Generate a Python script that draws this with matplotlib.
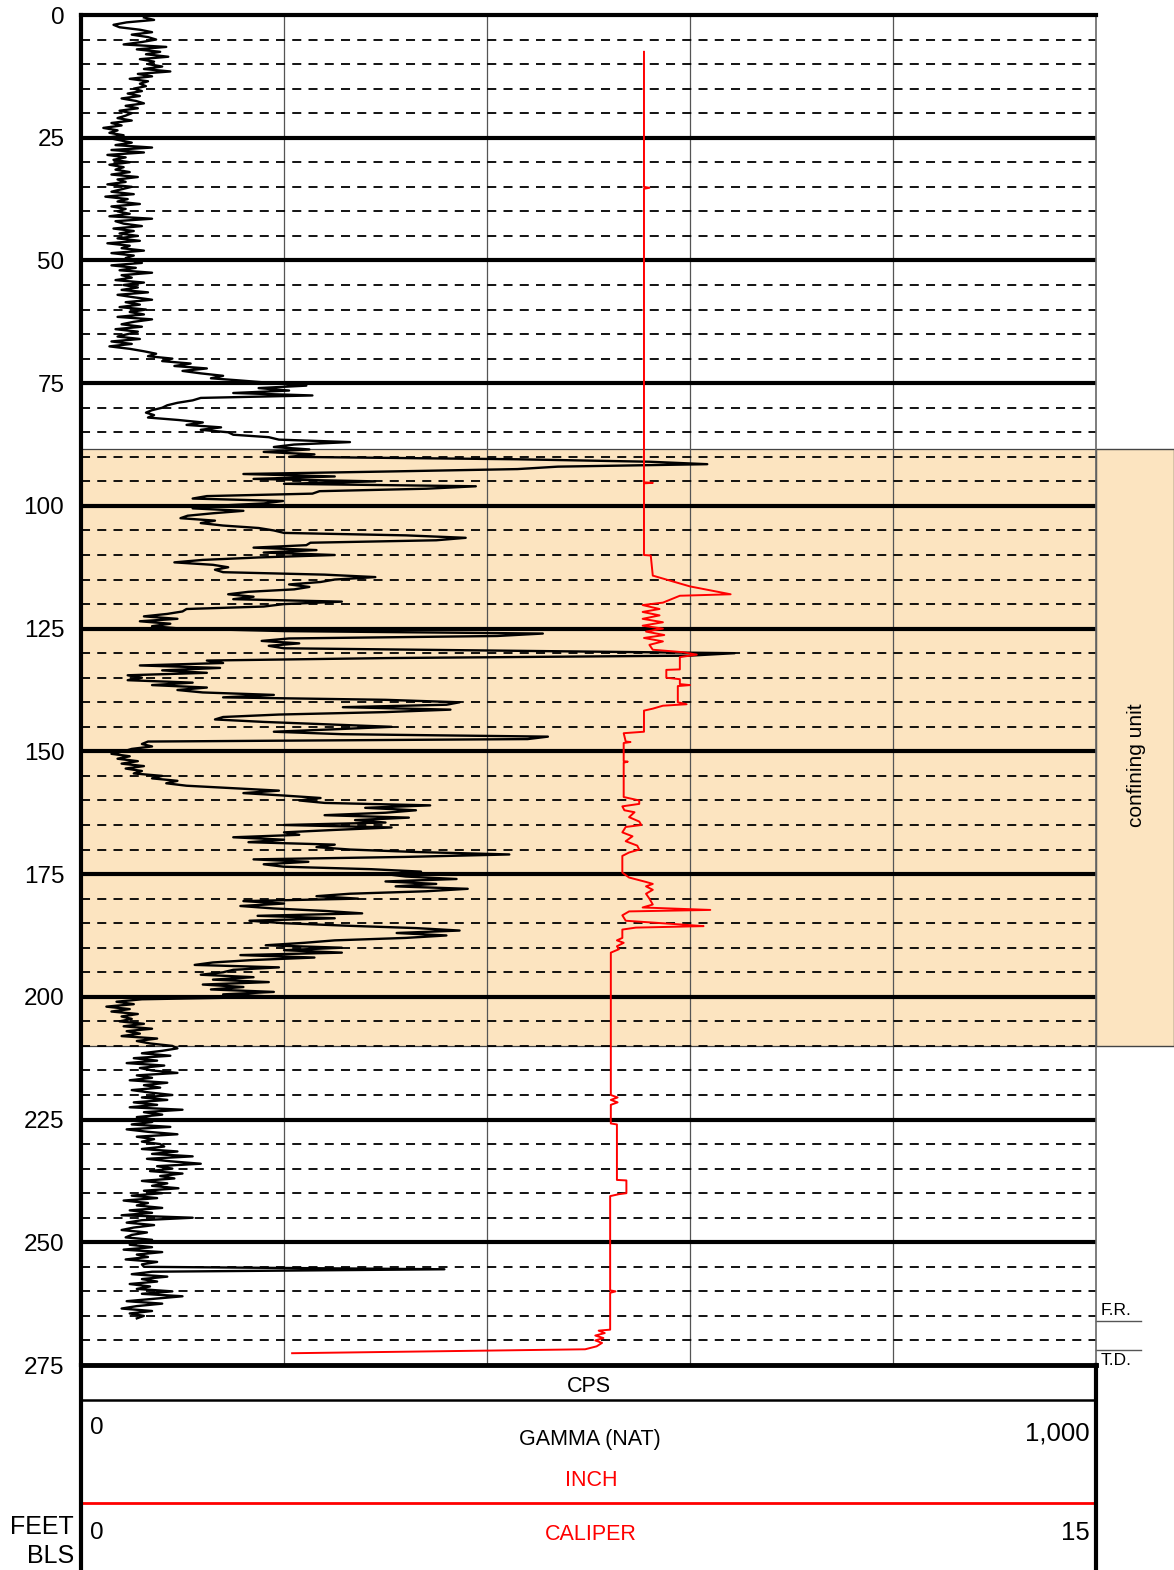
import matplotlib
matplotlib.use("Agg")
import matplotlib.pyplot as plt
import numpy as np
from matplotlib.patches import Rectangle

plt.rcParams['font.family'] = ['Liberation Sans', 'DejaVu Sans']

# natural gamma, CPS, sampled every 0.5 ft starting at 0.5 ft (one row = 5 ft)
gamma_start = 0.5
gamma_step = 0.5
gamma_cps = [
    62, 72, 45, 32, 38, 58, 70, 50, 66, 74,
    60, 42, 84, 55, 78, 64, 86, 58, 72, 66,
    80, 62, 88, 56, 70, 48, 66, 58, 64, 52,
    60, 46, 58, 40, 54, 62, 44, 56, 38, 50,
    44, 36, 50, 30, 40, 22, 36, 28, 42, 26,
    38, 50, 34, 70, 30, 62, 26, 44, 32, 48,
    28, 42, 34, 48, 30, 56, 36, 44, 26, 50,
    40, 30, 52, 24, 46, 36, 58, 30, 44, 36,
    48, 28, 70, 34, 42, 60, 32, 52, 38, 56,
    36, 58, 26, 48, 40, 62, 30, 52, 44, 50,
    60, 30, 54, 38, 70, 40, 50, 34, 62, 42,
    56, 40, 66, 36, 52, 70, 44, 58, 38, 64,
    48, 62, 36, 70, 52, 40, 60, 34, 56, 46,
    36, 58, 30, 50, 28, 48, 62, 74, 66, 90,
    80, 108, 92, 124, 100, 118, 140, 128, 160, 190,
    222, 175, 205, 150, 228, 118, 110, 95, 85, 80,
    70, 64, 72, 66, 96, 120, 104, 138, 118, 145,
    150, 185, 195, 265, 210, 190, 225, 180, 230, 205,
    430, 560, 617, 470, 430, 300, 160, 250, 170, 290,
    200, 389, 340, 235, 228, 124, 110, 199, 180, 130,
    110, 160, 130, 105, 98, 132, 118, 140, 175, 190,
    200, 320, 379, 350, 226, 222, 170, 232, 180, 250,
    175, 120, 92, 130, 145, 132, 140, 240, 290, 250,
    236, 205, 225, 210, 165, 145, 170, 150, 257, 200,
    180, 104, 100, 85, 62, 95, 58, 88, 70, 99,
    200, 455, 410, 205, 178, 215, 185, 200, 420, 644,
    600, 300, 124, 140, 58, 137, 80, 124, 46, 60,
    46, 110, 70, 124, 95, 120, 190, 140, 300, 373,
    360, 258, 364, 300, 195, 140, 132, 180, 244, 306,
    250, 190, 257, 460, 440, 66, 60, 70, 50, 42,
    30, 48, 36, 56, 40, 62, 44, 60, 52, 80,
    70, 95, 84, 104, 150, 195, 160, 200, 236, 215,
    240, 344, 280, 330, 300, 240, 323, 270, 300, 200,
    306, 250, 200, 215, 150, 200, 165, 250, 232, 265,
    330, 422, 320, 170, 224, 180, 200, 286, 335, 300,
    320, 370, 300, 350, 310, 381, 340, 265, 232, 273,
    160, 200, 157, 190, 240, 277, 174, 250, 166, 200,
    260, 330, 373, 311, 360, 320, 250, 220, 182, 257,
    200, 257, 157, 230, 170, 130, 112, 195, 150, 140,
    118, 170, 130, 185, 120, 160, 128, 190, 140, 195,
    60, 35, 52, 25, 48, 30, 56, 40, 50, 38,
    62, 42, 70, 45, 58, 40, 75, 55, 68, 90,
    95, 80, 60, 88, 52, 75, 45, 82, 58, 70,
    95, 55, 70, 48, 85, 62, 78, 50, 68, 90,
    60, 85, 52, 75, 48, 100, 62, 80, 55, 72,
    70, 50, 88, 45, 66, 95, 55, 72, 60, 78,
    82, 60, 95, 70, 110, 65, 88, 118, 75, 90,
    68, 100, 78, 92, 60, 85, 70, 96, 62, 80,
    50, 75, 42, 66, 55, 80, 48, 70, 40, 110,
    60, 45, 72, 52, 40, 65, 50, 44, 70, 58,
    48, 70, 42, 80, 55, 66, 44, 75, 60, 62,
    358, 70, 50, 85, 60, 75, 48, 68, 55, 90,
    60, 100, 72, 45, 80, 55, 40, 70, 48, 62,
    55,
]
gamma_depth = gamma_start + gamma_step * np.arange(len(gamma_cps))

# caliper, inches
cal_depth = [7.5, 35.0, 35.2, 35.4, 95.2, 95.3, 95.4, 110.0, 110.1, 114.2, 114.8, 116.4,
             118.0, 118.3, 119.7, 120.2, 121.0, 121.6, 122.3, 123.0, 123.7, 124.4, 125.0,
             125.6, 126.3, 126.9, 127.6, 128.3, 129.3, 129.8, 130.3, 130.8, 133.3, 133.4,
             135.0, 135.3, 136.3, 136.5, 136.7, 140.0, 140.4, 140.7, 141.3, 141.7, 146.0,
             146.3, 148.0, 148.1, 148.3, 152.0, 152.1, 152.3, 159.3, 160.0, 160.7, 161.2,
             162.0, 162.4, 163.4, 164.3, 165.0, 165.4, 166.5, 167.3, 168.3, 169.2, 170.0,
             170.6, 171.3, 174.7, 175.7, 176.6, 177.0, 177.5, 178.2, 179.0, 180.0, 181.2,
             181.8, 182.3, 182.6, 183.4, 184.5, 185.3, 185.6, 185.9, 186.3, 188.0, 188.5,
             189.0, 189.7, 190.3, 191.0, 220.0, 220.5, 221.0, 221.5, 222.0, 225.8, 226.0,
             237.3, 237.4, 240.0, 240.2, 240.6, 259.8, 260.0, 260.3, 267.8, 268.0, 268.5,
             269.0, 269.5, 270.0, 270.5, 271.2, 271.8, 272.6]
cal_inch = [8.32, 8.32, 8.40, 8.32, 8.32, 8.45, 8.32, 8.32, 8.42, 8.45, 8.6, 9.0,
            9.6, 8.85, 8.6, 8.3, 8.55, 8.3, 8.55, 8.3, 8.6, 8.3, 8.6,
            8.35, 8.62, 8.32, 8.6, 8.4, 8.45, 8.9, 9.1, 8.85, 8.85, 8.65,
            8.65, 8.85, 8.85, 9.0, 8.82, 8.82, 8.95, 8.6, 8.45, 8.32, 8.32,
            8.02, 8.05, 8.12, 8.02, 8.02, 8.08, 8.02, 8.02, 8.25, 8.25, 8.0,
            8.03, 8.18, 8.1, 8.25, 8.28, 8.05, 8.0, 8.15, 8.05, 8.22, 8.25,
            8.1, 8.0, 8.0, 8.1, 8.35, 8.45, 8.35, 8.45, 8.35, 8.4, 8.45,
            8.3, 9.3, 8.1, 8.0, 8.05, 8.9, 9.2, 8.2, 8.0, 8.0, 7.92,
            8.02, 7.92, 7.95, 7.83, 7.83, 7.93, 7.83, 7.93, 7.83, 7.83, 7.92,
            7.92, 8.06, 8.06, 7.95, 7.82, 7.82, 7.9, 7.82, 7.82, 7.65, 7.74,
            7.6, 7.72, 7.6, 7.7, 7.62, 7.45, 3.12]

depth_ticks = [0, 25, 50, 75, 100, 125, 150, 175, 200, 225, 250, 275]
unit_top, unit_bottom = 88.4, 210.0
fr_depth, td_depth = 266.0, 272.0

W, H = 1174, 1570
fig = plt.figure(figsize=(W / 100, H / 100), dpi=100)
L, R, T, B = 81, 1096, 15, 1365
ax = fig.add_axes([L / W, 1 - B / H, (R - L) / W, (B - T) / H])
ax.set_xlim(0, 1000)
ax.set_ylim(275, 0)

shade = '#FCE4C0'
ax.axhspan(unit_bottom, unit_top, color=shade, zorder=0, lw=0)
ext = (W - R) / (R - L) * 1000
ax.add_patch(Rectangle((1000, unit_top), ext, unit_bottom - unit_top, facecolor=shade,
                       edgecolor='#444444', lw=1, clip_on=False, zorder=0))
for d in (unit_top, unit_bottom):
    ax.plot([0, 1000], [d, d], color='#444444', lw=0.9, zorder=1)

for x in (200, 400, 600, 800):
    ax.axvline(x, color='#555555', lw=0.9, zorder=1)
for d in range(5, 275, 5):
    if d % 25 == 0:
        ax.axhline(d, color='black', lw=3.0, zorder=2)
    else:
        ax.axhline(d, color='black', lw=1.3, ls=(0, (5, 4)), zorder=2)

ax.plot(gamma_cps, gamma_depth, color='black', lw=1.7, zorder=3)

axc = ax.twiny()
axc.set_xlim(0, 15)
axc.set_ylim(275, 0)
axc.plot(cal_inch, cal_depth, color='red', lw=1.4, zorder=4)
axc.set_xticks([])
for s in axc.spines.values():
    s.set_visible(False)

ax.set_xticks([])
ax.set_yticks(depth_ticks)
ax.set_yticklabels([str(t) for t in depth_ticks], fontsize=17.5)
ax.tick_params(axis='y', length=0, pad=12)
ax.spines['left'].set_linewidth(3)
ax.spines['top'].set_linewidth(3)
ax.spines['bottom'].set_linewidth(3.5)
ax.spines['right'].set_linewidth(1.2)
ax.spines['right'].set_color('#666666')

ax.text(1040, 152.8, 'confining unit', rotation=90, ha='center', va='center', fontsize=15)
for d in (fr_depth, td_depth):
    ax.plot([1000, 1044], [d, d], color='#555555', lw=1, clip_on=False)
ax.text(1005, fr_depth - 0.5, 'F.R.', ha='left', va='bottom', fontsize=12.5)
ax.text(1005, td_depth + 0.6, 'T.D.', ha='left', va='top', fontsize=12.5)

# header / scale box below the track
lg = fig.add_axes([L / W, 0, (R - L) / W, (H - B) / H])
lg.set_xlim(L, R)
lg.set_ylim(H, B)
lg.set_xticks([])
lg.set_yticks([])
lg.patch.set_alpha(0)
lg.spines['top'].set_visible(False)
lg.spines['bottom'].set_visible(False)
lg.spines['left'].set_linewidth(3)
lg.spines['right'].set_linewidth(3)
lg.plot([L, R], [1400, 1400], color='black', lw=1.8)
lg.plot([L, R], [1503, 1503], color='red', lw=2)
lg.text(589, 1386, 'CPS', ha='center', va='center', fontsize=15.5)
lg.text(90, 1428, '0', ha='left', va='center', fontsize=17.5)
lg.text(590, 1439, 'GAMMA (NAT)', ha='center', va='center', fontsize=15.5)
lg.text(1090, 1433, '1,000', ha='right', va='center', fontsize=18.5)
lg.text(591, 1481, 'INCH', ha='center', va='center', fontsize=15.5, color='red')
lg.text(90, 1533, '0', ha='left', va='center', fontsize=17.5)
lg.text(591, 1534, 'CALIPER', ha='center', va='center', fontsize=15.5, color='red')
lg.text(1090, 1533, '15', ha='right', va='center', fontsize=18.5)
lg.text(74, 1527, 'FEET', ha='right', va='center', fontsize=18, clip_on=False)
lg.text(74, 1556, 'BLS', ha='right', va='center', fontsize=18, clip_on=False)

fig.savefig('out.png', dpi=100)
